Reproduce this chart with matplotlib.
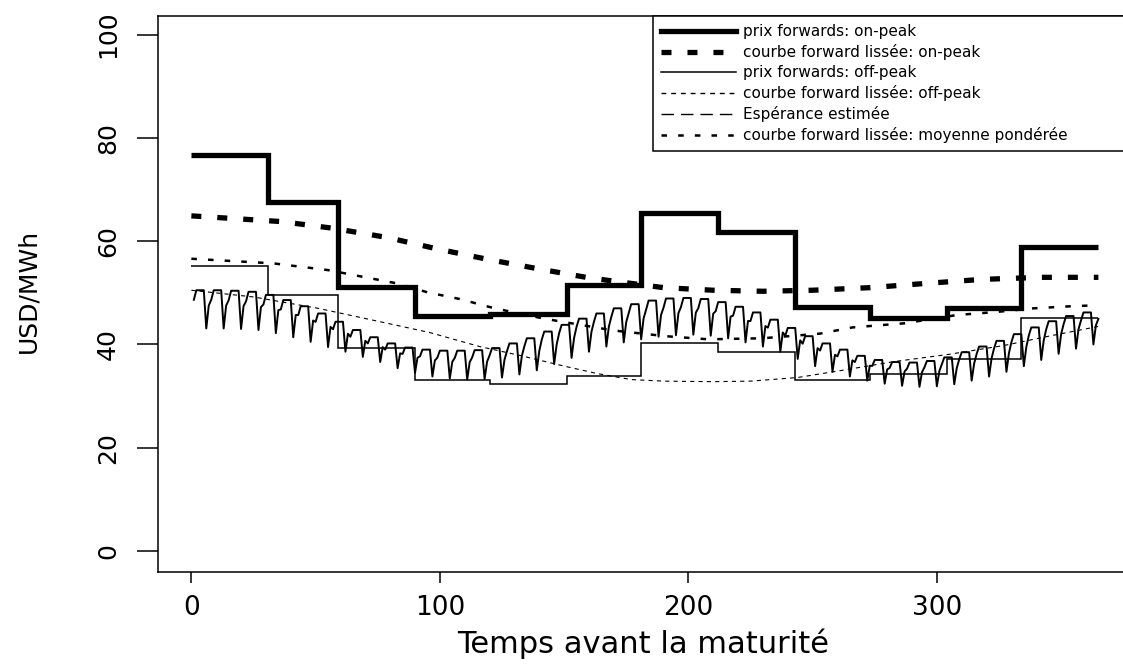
import numpy as np
import matplotlib
matplotlib.use("Agg")
import matplotlib.pyplot as plt
from matplotlib import font_manager
from matplotlib.lines import Line2D

# -- monthly forward prices (step curves)
month_edges = [0, 31, 59, 90, 120, 151, 181, 212, 243, 273, 304, 334, 365]
on_peak = [76.7, 67.6, 51.2, 45.5, 45.9, 51.5, 65.4, 61.8, 47.3, 45.2, 47.1, 58.9]
off_peak = [55.2, 49.6, 39.4, 33.1, 32.3, 33.8, 40.3, 38.6, 33.2, 34.2, 37.2, 45.2]

# -- smoothed forward curves, read at a few days
smooth_on_days = [0, 36, 57, 79, 98, 119, 139, 160, 190, 210, 230, 250, 273, 295, 318, 342, 365]
smooth_on = [64.9, 63.8, 62.5, 60.7, 58.6, 56.5, 54.7, 52.9, 51.0, 50.5, 50.3, 50.5, 51.0,
             51.8, 52.6, 53.0, 53.0]

smooth_off_days = [0, 25, 51, 76, 96, 116, 132, 151, 163, 177, 190, 210, 225, 244, 262, 283,
                   305, 327, 345, 365]
smooth_off = [50.5, 49.2, 47.0, 44.4, 42.3, 39.6, 37.9, 35.7, 34.4, 33.2, 32.9, 32.8, 32.9,
              33.6, 35.0, 36.7, 38.1, 39.8, 41.6, 43.5]

weighted_days = [0, 33, 55, 83, 95, 108, 122, 142, 170, 191, 208, 230, 253, 266, 287, 308,
                 324, 339, 354, 365]
weighted = [56.6, 55.7, 54.4, 51.8, 50.1, 48.8, 47.0, 45.0, 42.7, 41.6, 41.0, 41.2, 42.1,
            43.3, 44.1, 45.7, 46.3, 47.0, 47.4, 47.6]

# -- estimated expectation: weekday level and weekend low, week by week
week_high = [50.5, 50.5, 50.4, 50.2, 49.6, 48.6, 47.4, 46.0, 44.4, 42.8, 41.4, 40.2, 39.4,
             39.0, 38.8, 38.8, 38.9, 39.3, 40.2, 41.2, 42.5, 43.8, 45.0, 46.0, 47.0, 47.8,
             48.5, 48.9, 49.0, 48.8, 48.2, 47.3, 46.2, 44.8, 43.2, 41.6, 40.2, 39.0, 37.8,
             37.0, 36.6, 36.5, 36.8, 37.5, 38.5, 39.6, 40.7, 42.0, 43.3, 44.5, 45.5, 46.2, 46.5]
week_low = [43.1, 43.1, 43.0, 42.8, 42.2, 41.4, 40.5, 39.5, 38.6, 37.6, 36.6, 35.4, 34.5,
            33.8, 33.4, 33.2, 33.3, 33.6, 34.2, 35.0, 36.2, 37.4, 38.6, 39.6, 40.4, 41.0,
            41.5, 41.8, 41.9, 41.7, 41.2, 40.4, 39.6, 38.6, 37.2, 35.8, 34.7, 33.8, 33.0,
            32.4, 32.0, 31.8, 31.9, 32.3, 33.0, 33.8, 34.7, 35.8, 37.0, 38.2, 39.2, 40.0, 40.3]
# position of each day of the week between the weekend low (0) and weekday level (1)
day_shape = [0.75, 1.0, 1.0, 1.0, 1.0, 0.0, 0.6]

labels = ["prix forwards: on-peak",
          "courbe forward lissée: on-peak",
          "prix forwards: off-peak",
          "courbe forward lissée: off-peak",
          "Espérance estimée",
          "courbe forward lissée: moyenne pondérée"]

plt.rcParams['font.family'] = ['DejaVu Sans']
plt.rcParams['lines.scale_dashes'] = False

names = {f.name for f in font_manager.fontManager.ttflist}
ytick_font = 'Liberation Sans Narrow' if 'Liberation Sans Narrow' in names else 'DejaVu Sans'

days = np.arange(1, 366)
wk = (days - 1) // 7
dow = (days - 1) % 7
hi = np.array(week_high)[wk]
lo = np.array(week_low)[wk]
esperance = lo + np.array(day_shape)[dow] * (hi - lo)

fig = plt.figure(figsize=(11.23, 6.64), dpi=100)
ax = fig.add_axes([0.1404, 0.139, 0.8699, 0.8369])

# -- styles
s_on = dict(color='black', lw=3.8)
s_on_smooth = dict(color='black', lw=3.8, dashes=(7.2, 11.5))
s_off = dict(color='black', lw=1.1)
s_off_smooth = dict(color='black', lw=0.8, dashes=(3.0, 3.0))
s_esp = dict(color='black', lw=1.4)
s_weighted = dict(color='black', lw=1.8, dashes=(4.0, 8.0))

ax.stairs(on_peak, month_edges, baseline=None, **s_on)
ax.plot(smooth_on_days, smooth_on, **s_on_smooth)
ax.stairs(off_peak, month_edges, baseline=None, **s_off)
ax.plot(smooth_off_days, smooth_off, **s_off_smooth)
ax.plot(days, esperance, **s_esp)
ax.plot(weighted_days, weighted, **s_weighted)

ax.set_xlim(-13.56, 379.56)
ax.set_ylim(-4, 103.6)
ax.set_xticks([0, 100, 200, 300])
ax.set_yticks([0, 20, 40, 60, 80, 100])
for sp in ax.spines.values():
    sp.set_linewidth(1.1)
ax.tick_params(axis='x', length=8, width=1.1, pad=9, labelsize=19)
ax.tick_params(axis='y', length=15, width=1.1, pad=12, labelsize=18)
for lab in ax.get_yticklabels():
    lab.set_rotation(90)
    lab.set_va('center')
    lab.set_family(ytick_font)

fig.text(28 / 1123, 1 - 291 / 664, 'USD/MWh', rotation=90, ha='center', va='center',
         fontsize=18)
fig.text(643 / 1123, 1 - 644 / 664, 'Temps avant la maturité', ha='center', va='center',
         fontsize=22)

# -- legend (proxies, the expectation is shown dashed there)
handles = [Line2D([], [], **s_on),
           Line2D([], [], **s_on_smooth),
           Line2D([], [], **s_off),
           Line2D([], [], color='black', lw=1.0, dashes=(3.5, 3.5)),
           Line2D([], [], color='black', lw=1.0, dashes=(9.0, 5.0)),
           Line2D([], [], **s_weighted)]
leg = ax.legend(handles, labels, loc='upper left', bbox_to_anchor=(0.507, 0.0, 0.493, 1.0),
                mode='expand', fontsize=11, handlelength=4.9, handletextpad=0.45,
                labelspacing=0.32, borderpad=0.55, borderaxespad=0, fancybox=False,
                framealpha=1, edgecolor='black')
leg.get_frame().set_linewidth(1.1)

fig.savefig('out.png', dpi=100)
